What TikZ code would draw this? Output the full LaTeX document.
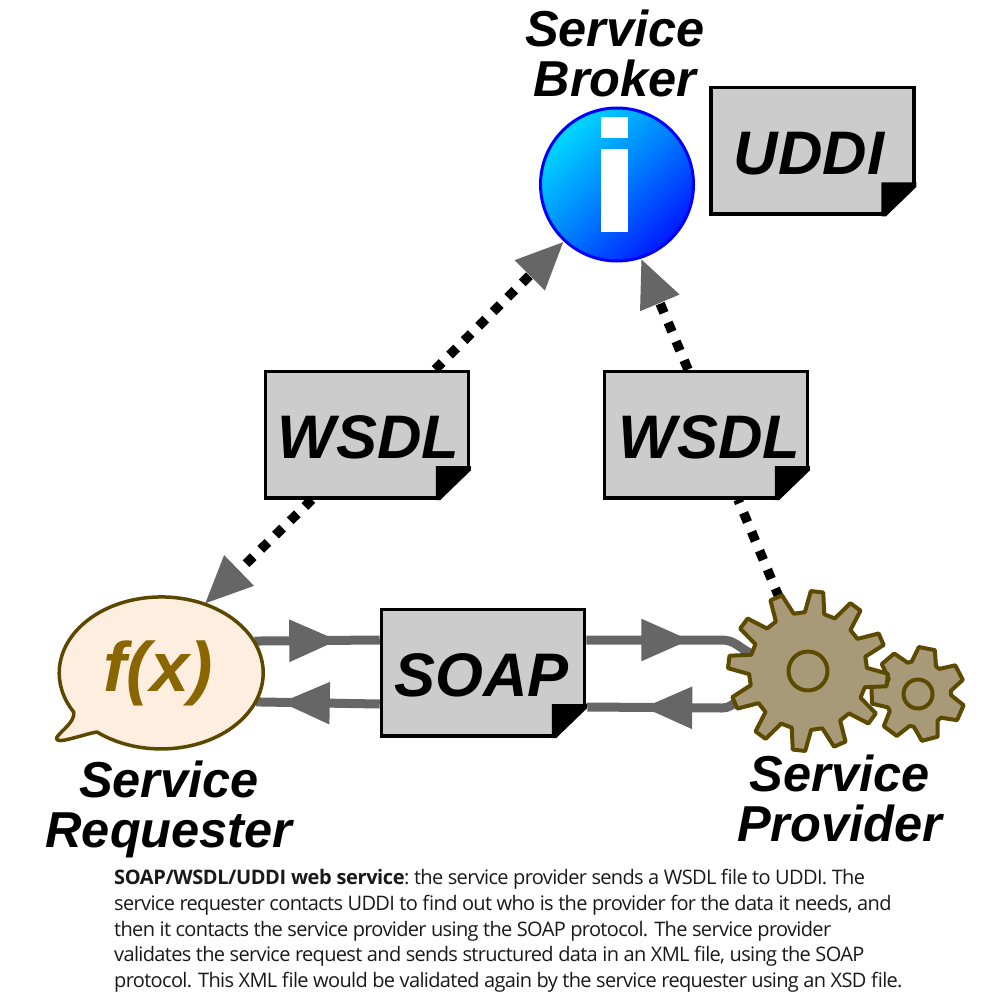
\documentclass[tikz,border=0pt]{standalone}
\usepackage{fontspec}
\setmainfont{Liberation Sans}
\newfontfamily\notefont[LetterSpace=-3.3,BoldFeatures={LetterSpace=-2}]{Open Sans}
\usetikzlibrary{arrows.meta,backgrounds,decorations.markings,positioning,shapes.geometric}

\definecolor{docgray}{HTML}{CCCCCC}
\definecolor{linkgray}{HTML}{666666}
\definecolor{bubblefill}{HTML}{FEEEDF}
\definecolor{bubbleline}{HTML}{5C4700}
\definecolor{fxgold}{HTML}{8A6600}
\definecolor{gearfill}{HTML}{A89A78}
\definecolor{gearline}{HTML}{5C4A00}

\begin{document}
\begin{tikzpicture}[x=1pt,y=-1pt,>=Triangle]
  \tikzstyle{docbox}=[fill=docgray,draw=black,line width=3.5pt,minimum width=203pt,
                      minimum height=126.5pt,inner sep=0pt,text height=48pt,
                      font=\fontsize{61.5}{61.5}\selectfont\bfseries\itshape]
  \tikzstyle{rolelabel}=[inner sep=0pt,align=center,
                      font=\fontsize{50.5}{50}\selectfont\bfseries\itshape]
  \tikzstyle{dotlink}=[draw=black,line width=9.5pt,dash pattern=on 10pt off 10.5pt]
  \tikzstyle{dotarrow}=[dotlink,-{Triangle[length=48pt,width=40pt,color=linkgray,fill=linkgray]}]
  \tikzstyle{flowline}=[draw=linkgray,line width=9pt,postaction={decorate,decoration={markings,
                      mark=at position #1 with {\arrow{Triangle[length=49pt,width=40pt,color=linkgray,fill=linkgray]}}}}]
  \tikzstyle{gearbody}=[fill=gearfill,draw=gearline,line width=4pt,line join=round]

  \useasboundingbox (0,0) rectangle (1000,1000);

  \node[docbox] (uddi)  at (812.5,151)            {UDDI\kern7pt};
  \node[docbox] (wsdlA) at (367,434.5)            {\kern3pt WSDL};
  \node[docbox] (wsdlB) [right=132.5pt of wsdlA]  {\kern7pt WSDL};
  \node[docbox] (soap)  at (483,672.5)            {SOAP\kern3pt};

  % folded corners
  \foreach \doc in {uddi,wsdlA,wsdlB,soap} {
    \fill[white] ([shift={(1pt,31pt)}]\doc.south east) -- ([shift={(1pt,-1pt)}]\doc.south east)
                 -- ([shift={(-31pt,-1pt)}]\doc.south east) -- cycle;
    \fill[black] ([shift={(-34.5pt,33.5pt)}]\doc.south east) -- ([shift={(0.5pt,33.5pt)}]\doc.south east)
                 -- ([shift={(0.5pt,29pt)}]\doc.south east) -- ([shift={(-30pt,-0.5pt)}]\doc.south east)
                 -- ([shift={(-34.5pt,-0.5pt)}]\doc.south east) -- cycle;
  }

  % broker
  \node[circle,draw=blue,line width=3pt,minimum size=153pt,inner sep=0pt,
        top color=cyan!85!blue,bottom color=blue!90!cyan,middle color=blue!50!cyan,
        shading angle=45] (broker) at (617,184.5) {};
  \fill[white] (601,117) rectangle (628,138);
  \fill[white] (601,149) rectangle (628,232);
  \node[rolelabel] (brokerlabel) [above=9pt of broker,xshift=-2pt] {Service\\Broker};

  % requester
  \draw[fill=bubblefill,draw=bubbleline,line width=3.5pt,line join=round]
    (97,732) arc[start angle=231,end angle=571,x radius=102pt,y radius=76pt]
    .. controls (75,722) and (62,730) .. (57,737)
    .. controls (55,741) and (60,741) .. (65,740)
    .. controls (75,738) and (90,733) .. (97,732) -- cycle;
  \node[ellipse,minimum width=204pt,minimum height=152pt,inner sep=0pt,text=fxgold,
        font=\fontsize{70}{70}\selectfont\bfseries\itshape] (requester) at (161.5,673) {f(x)\kern7pt};
  \node[rolelabel] (requesterlabel) [below=11pt of requester,xshift=7.5pt] {Service\\Requester};

  % provider
  \node[circle,minimum size=118pt,inner sep=0pt] (gearbig) at (808,671) {};
  \node[circle,minimum size=66pt,inner sep=0pt]  (gearsmall) at (918,694) {};
  \draw[gearbody,shift={(918,694)}] (57:33pt)
    \foreach \t in {0,...,6} { -- ({79+\t*51.43-22}:33pt) -- ({79+\t*51.43-10}:47pt)
                               -- ({79+\t*51.43+10}:47pt) -- ({79+\t*51.43+22}:33pt) } -- cycle;
  \draw[gearbody] (gearsmall.center) circle[radius=14.5pt];
  \draw[gearbody,shift={(808,671)}] (14:59pt)
    \foreach \t in {0,...,11} { -- ({23.5+\t*30-9.5}:59pt) -- ({23.5+\t*30-4.5}:80pt)
                                -- ({23.5+\t*30+4.5}:80pt) -- ({23.5+\t*30+9.5}:59pt) } -- cycle;
  \draw[gearbody] (gearbig.center) circle[radius=19.5pt];
  \node[rolelabel] (providerlabel) [below=24pt of gearbig,xshift=31.5pt] {Service\\Provider};

  \node[inner sep=0pt,anchor=north west,align=left,text=black!90,
        font=\notefont\fontsize{20}{25.75}\selectfont] (note) at (114,869)
    {\frenchspacing\textbf{SOAP/WSDL/UDDI web service}: the service provider sends a WSDL file to UDDI. The\\
     service requester contacts UDDI to find out who is the provider for the data it needs, and\\
     then it contacts the service provider using the SOAP protocol. The service provider\\
     validates the service request and sends structured data in an XML file, using the SOAP\\
     protocol. This XML file would be validated again by the service requester using an XSD file.};

  \begin{scope}[on background layer]
    \path ([xshift=68pt]wsdlA.north) edge[dotarrow] (broker.227);
    \path ([xshift=-18pt]wsdlB.north) edge[dotarrow] (broker.288.7);
    \path ([xshift=-55pt]wsdlA.south) edge[dotarrow] (requester.58.8);
    \path ([xshift=32pt]wsdlB.south) edge[dotlink,dash phase=6pt] (gearbig.111);

    \draw[flowline=84pt] (requester.19.3) -- ([yshift=32.5pt]soap.west);
    \draw[flowline=99pt] ([yshift=-31.5pt]soap.west) -- (requester.-17.7);
    \draw[flowline=104pt] ([yshift=32.5pt]soap.east) -- (722,640) to[out=0,in=155] (gearbig.163);
    \draw[flowline=-57pt] (gearbig.197) to[out=205,in=0] (722,708) -- ([yshift=-34.5pt]soap.east);
  \end{scope}
\end{tikzpicture}
\end{document}
